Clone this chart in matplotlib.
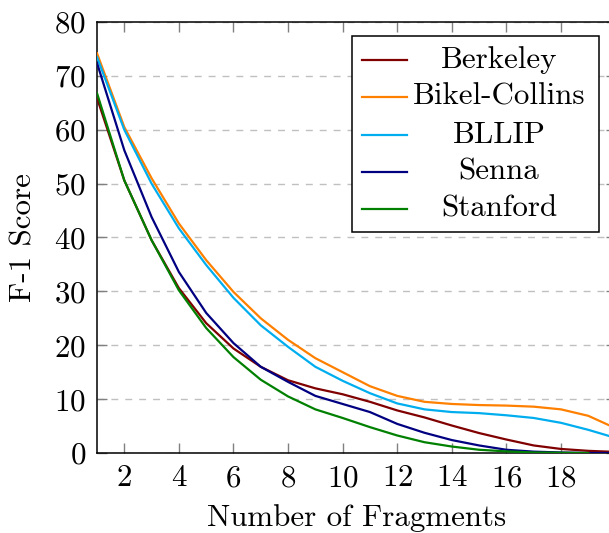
import matplotlib
matplotlib.use("Agg")
import matplotlib.pyplot as plt
from matplotlib.patches import Rectangle

plt.rcParams['font.family'] = ['cmr10', 'DejaVu Serif']
plt.rcParams['mathtext.fontset'] = 'cm'
plt.rcParams['axes.formatter.use_mathtext'] = True

fragments = list(range(1, 21))

berkeley = [65.9, 50.6, 39.5, 30.6, 24.1, 19.4, 16.0, 13.5, 12.0, 10.9,
            9.5, 7.9, 6.6, 5.1, 3.7, 2.5, 1.4, 0.75, 0.4, 0.2]
bikel_collins = [74.2, 60.5, 51.0, 42.6, 35.8, 29.9, 25.0, 21.0, 17.6, 15.0,
                 12.4, 10.6, 9.5, 9.1, 8.9, 8.8, 8.6, 8.1, 6.9, 4.6]
bllip = [73.5, 60.0, 50.0, 41.7, 34.9, 28.8, 23.7, 19.7, 16.0, 13.4,
         11.1, 9.2, 8.1, 7.6, 7.4, 7.0, 6.5, 5.6, 4.3, 2.8]
senna = [72.4, 56.2, 43.8, 33.6, 26.0, 20.4, 16.0, 13.2, 10.6, 9.1,
         7.6, 5.4, 3.75, 2.4, 1.4, 0.6, 0.25, 0.1, 0.0, 0.0]
stanford = [66.8, 50.6, 39.5, 30.2, 23.2, 17.8, 13.6, 10.5, 8.1, 6.5,
            4.8, 3.25, 2.0, 1.2, 0.6, 0.3, 0.1, 0.05, 0.0]

names = ['Berkeley', 'Bikel-Collins', 'BLLIP', 'Senna', 'Stanford']
series = [berkeley, bikel_collins, bllip, senna, stanford]
colors = ['#800000', '#ff8000', '#00aeef', '#000080', '#008000']

FS = 22.3

fig = plt.figure(figsize=(6.09, 5.33), dpi=100)
ax = fig.add_axes([97 / 609, 80 / 533, 518.6 / 609, 431 / 533])

for vals, c in zip(series, colors):
    ax.plot(fragments[:len(vals)], vals, color=c, lw=1.6, zorder=3)

ax.set_xlim(1, 20)
ax.set_ylim(0, 80)
ax.set_xticks(range(2, 19, 2))
ax.set_yticks(range(0, 81, 10))
ax.grid(axis='y', color='#c0c0c0', linestyle=(0, (5, 5)), lw=1.0)
ax.tick_params(direction='in', length=7, width=1.0, color='#808080',
               labelsize=FS, top=True, right=True, pad=8)
for s in ax.spines.values():
    s.set_linewidth(1.1)

ax.set_xlabel('Number of Fragments', fontsize=FS, labelpad=9)
ax.set_ylabel('F-1 Score', fontsize=FS, labelpad=12)

# legend drawn by hand so that labels are centred like pgfplots
def fx(px):
    return (px - 97) / 518.6

def fy(py):
    return (453 - py) / 431

ax.add_patch(Rectangle((fx(352), fy(232)), fx(599) - fx(352), fy(36) - fy(232),
                       transform=ax.transAxes, facecolor='white',
                       edgecolor='black', lw=1.1, zorder=5, clip_on=False))
rows = [60, 97, 135, 172, 209]
for name, c, py in zip(names, colors, rows):
    ax.plot([fx(362), fx(407)], [fy(py), fy(py)], color=c, lw=1.6,
            transform=ax.transAxes, zorder=6, clip_on=False)
    ax.text(fx(499), fy(py), name, ha='center', va='center', fontsize=FS,
            transform=ax.transAxes, zorder=6)

fig.savefig('out.png', dpi=100)
